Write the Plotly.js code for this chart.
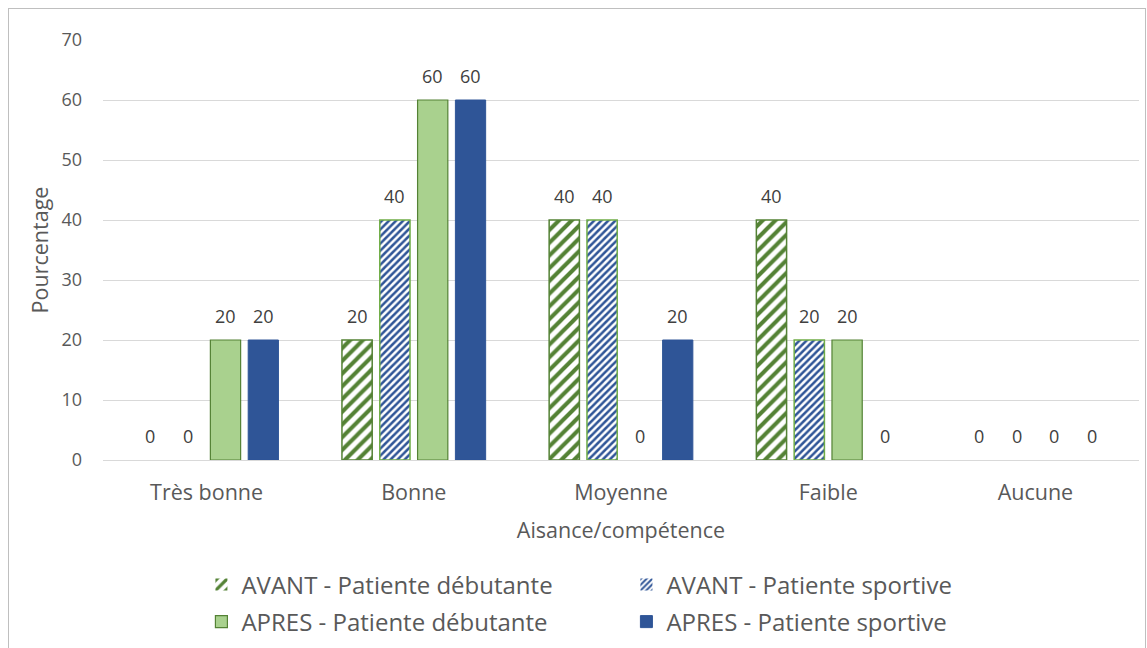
<!DOCTYPE html>
<html><head><meta charset="utf-8">
<script src="https://cdn.plot.ly/plotly-3.0.1.min.js"></script>
<style>
body{margin:0;background:#fff;}
#frame{position:absolute;left:8px;top:8px;width:1136px;height:700px;border:1px solid #bfbfbf;pointer-events:none;}
#chart{width:1147px;height:648px;}
</style></head>
<body>
<div id="chart"></div>
<div id="frame"></div>
<script>
const categories = ["Très bonne", "Bonne", "Moyenne", "Faible", "Aucune"];
const seriesNames = ["AVANT - Patiente débutante", "AVANT - Patiente sportive", "APRES - Patiente débutante", "APRES - Patiente sportive"];
const avantDebutante = [0, 20, 40, 40, 0];
const avantSportive = [0, 40, 40, 20, 0];
const apresDebutante = [20, 60, 0, 20, 0];
const apresSportive = [20, 60, 20, 0, 0];
const yTicks = [0, 10, 20, 30, 40, 50, 60, 70];

const font = "Open Sans, Noto Sans, sans-serif";
const allSeries = [avantDebutante, avantSportive, apresDebutante, apresSportive];

function bar(name, y, marker, legend) {
  marker.line.width = y.map(v => v === 0 ? 0 : marker.line.width);
  return {
    type: "bar", name: name, x: categories, y: y, marker: marker,
    legend: legend, hoverinfo: "x+y+name"
  };
}

const data = [
  bar(seriesNames[0], avantDebutante, {
    color: "white", line: {color: "#548235", width: 1.5},
    pattern: {shape: "/", fgcolor: "#548235", bgcolor: "white", size: 9, solidity: 0.45}
  }, "legend"),
  bar(seriesNames[1], avantSportive, {
    color: "white", line: {color: "#70AD47", width: 1.5},
    pattern: {shape: "/", fgcolor: "#2F5597", bgcolor: "white", size: 5, solidity: 0.5}
  }, "legend"),
  bar(seriesNames[2], apresDebutante, {
    color: "#A9D18E", line: {color: "#548235", width: 1.2}
  }, "legend2"),
  bar(seriesNames[3], apresSportive, {
    color: "#2F5597", line: {color: "#2F5597", width: 1}
  }, "legend2")
];

// data labels above bars
const slotPx = 37.7;
const offsets = [-1.5, -0.5, 0.5, 1.5];
const annotations = [];
allSeries.forEach((s, i) => {
  s.forEach((v, j) => {
    annotations.push({
      x: categories[j], y: v, xref: "x", yref: "y",
      text: String(v), showarrow: false,
      xshift: offsets[i] * slotPx, yshift: 24, yanchor: "middle",
      font: {family: font, size: 18, color: "#404040"}
    });
  });
});

const legendCommon = {
  orientation: "h", xanchor: "left", yanchor: "middle", yref: "container",
  entrywidth: 380, entrywidthmode: "pixels",
  font: {family: font, size: 24, color: "#595959"},
  itemwidth: 30, tracegroupgap: 0, bgcolor: "rgba(0,0,0,0)"
};

const layout = {
  width: 1147, height: 648,
  margin: {l: 103, r: 8, t: 40, b: 188},
  paper_bgcolor: "white", plot_bgcolor: "white",
  font: {family: font, color: "#595959"},
  barmode: "group", bargap: 0.27, bargroupgap: 0.2,
  showlegend: true,
  annotations: annotations,
  xaxis: {
    type: "category",
    tickfont: {family: font, size: 21.5, color: "#595959"},
    showline: true, linecolor: "#d9d9d9", linewidth: 1,
    ticks: "", ticklabelstandoff: 13,
    title: {text: "Aisance/compétence", font: {family: font, size: 21.5, color: "#595959"}, standoff: 18}
  },
  yaxis: {
    range: [0, 70], tickvals: yTicks, ticktext: yTicks.map(String),
    showgrid: true, gridcolor: "#d9d9d9", gridwidth: 1, zeroline: false,
    tickfont: {family: font, size: 18, color: "#595959"},
    ticks: "", ticklabelstandoff: 20,
    title: {text: "Pourcentage", font: {family: font, size: 21.5, color: "#595959"}, standoff: 6}
  },
  legend: Object.assign({}, legendCommon, {x: 0.095, y: 0.0972}),
  legend2: Object.assign({}, legendCommon, {x: 0.095, y: 0.0401})
};

Plotly.newPlot("chart", data, layout, {displayModeBar: false, staticPlot: true});
</script>
</body></html>
